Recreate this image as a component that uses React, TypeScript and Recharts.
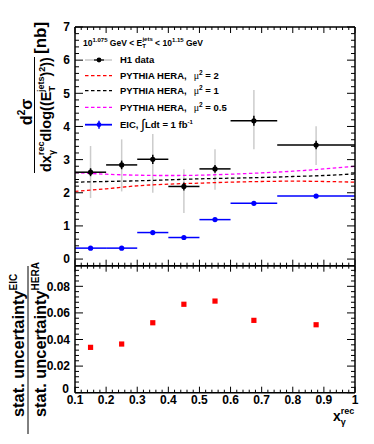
import { ComposedChart, Scatter, Line, XAxis, YAxis, ErrorBar } from "recharts"

// x_gamma bins
const binCenters = [0.15, 0.25, 0.35, 0.45, 0.55, 0.675, 0.875]
const binHalfWidths = [0.05, 0.05, 0.05, 0.05, 0.05, 0.075, 0.125]

// H1 data
const h1Values = [2.62, 2.84, 3.01, 2.19, 2.72, 4.17, 3.44]
const h1Stat = [0.12, 0.13, 0.14, 0.12, 0.12, 0.15, 0.13]
const h1SysLow = [1.84, 2.04, 2.0, 1.39, 2.09, 3.31, 2.84]
const h1SysHigh = [3.41, 3.61, 3.77, 2.71, 3.31, 5.1, 4.01]

// EIC projection
const eicValues = [0.33, 0.33, 0.8, 0.65, 1.19, 1.68, 1.9]
const eicStat = [0.02, 0.02, 0.02, 0.02, 0.02, 0.02, 0.02]

// PYTHIA HERA curves
const curveX = [0.1, 0.2, 0.3, 0.4, 0.5, 0.6, 0.7, 0.8, 0.9, 1.0]
const pythiaMu2 = [2.04, 2.12, 2.21, 2.26, 2.29, 2.32, 2.34, 2.35, 2.34, 2.32]
const pythiaMu1 = [2.32, 2.34, 2.36, 2.39, 2.42, 2.44, 2.46, 2.49, 2.52, 2.57]
const pythiaMu05 = [2.61, 2.56, 2.53, 2.52, 2.53, 2.56, 2.6, 2.65, 2.72, 2.8]

// stat. uncertainty ratio EIC / HERA
const ratioValues = [0.0341, 0.0366, 0.0526, 0.0665, 0.0689, 0.0544, 0.0511]

// ticks
const xMajor = [0.1, 0.2, 0.3, 0.4, 0.5, 0.6, 0.7, 0.8, 0.9, 1.0]
const xLabels = ["0.1", "0.2", "0.3", "0.4", "0.5", "0.6", "0.7", "0.8", "0.9", "1"]
const yTopMajor = [0, 1, 2, 3, 4, 5, 6, 7]
const yTopLabels = ["0", "1", "2", "3", "4", "5", "6", "7"]
const yBotMajor = [0, 0.02, 0.04, 0.06, 0.08]
const yBotLabels = ["0", "0.02", "0.04", "0.06", "0.08"]

const steps = (a: number, b: number, s: number) => {
  const out: number[] = []
  for (let v = a; v <= b + 1e-9; v += s) out.push(Math.round(v * 10000) / 10000)
  return out
}
const xMinor = steps(0.1, 1.0, 0.02)
const yTopMinor = steps(0, 7, 0.2)
const yBotMinor = steps(0, 0.092, 0.004)

const h1Data = binCenters.map((x, i) => ({
  x,
  y: h1Values[i],
  ex: binHalfWidths[i],
  ey: h1Stat[i],
  sys: [h1Values[i] - h1SysLow[i], h1SysHigh[i] - h1Values[i]],
}))
const eicData = binCenters.map((x, i) => ({ x, y: eicValues[i], ex: binHalfWidths[i], ey: eicStat[i] }))
const mu2Data = curveX.map((x, i) => ({ x, y: pythiaMu2[i] }))
const mu1Data = curveX.map((x, i) => ({ x, y: pythiaMu1[i] }))
const mu05Data = curveX.map((x, i) => ({ x, y: pythiaMu05[i] }))
const ratioData = binCenters.map((x, i) => ({ x, y: ratioValues[i] }))

const FONT = "'Liberation Sans', Arial, Helvetica, sans-serif"

type Side = "left" | "right" | "top" | "bottom"

function axisTick(side: Side, majors: number[], labels: string[] | null, majorLen: number, minorLen: number) {
  return (props: any) => {
    const { x, y, payload } = props
    const idx = majors.findIndex((m) => Math.abs(m - payload.value) < 1e-6)
    const len = idx >= 0 ? majorLen : minorLen
    let x2 = x
    let y2 = y
    if (side === "left") x2 = x + len
    if (side === "right") x2 = x - len
    if (side === "bottom") y2 = y - len
    if (side === "top") y2 = y + len
    let label = null
    if (idx >= 0 && labels) {
      // the lower panel's "0" sits just above / left of the x labels
      const corner = labels[idx] === "0" && labels.length === 5
      if (side === "left")
        label = (
          <text x={x - (corner ? 6 : 5)} y={y + 4.3 - (corner ? 4 : 0)} textAnchor="end" fontSize={12}
            fontWeight="bold" fontFamily={FONT} fill="#000">
            {labels[idx]}
          </text>
        )
      if (side === "bottom")
        label = (
          <text x={x} y={y + 11.5} textAnchor="middle" fontSize={12} fontWeight="bold" fontFamily={FONT} fill="#000">
            {labels[idx]}
          </text>
        )
    }
    return (
      <g>
        <line x1={x} y1={y} x2={x2} y2={y2} stroke="#000" strokeWidth={1} />
        {label}
      </g>
    )
  }
}

const frame = { stroke: "#000", strokeWidth: 1.5 }

const dot = (color: string) => (p: any) => <circle cx={p.cx} cy={p.cy} r={2.6} fill={color} />
const square = (p: any) => <rect x={p.cx - 2.6} y={p.cy - 2.6} width={5.2} height={5.2} fill="#ff0000" />
const none = () => <g />

function TopPanel() {
  return (
    <ComposedChart width={374} height={444} margin={{ top: 26, right: 18, bottom: 177.3, left: 74 }}>
      <XAxis xAxisId="b" dataKey="x" type="number" domain={[0.1, 1]} allowDataOverflow ticks={xMinor} interval={0}
        orientation="bottom" height={1} tickSize={0} tickMargin={0} tickLine={false} axisLine={frame}
        tick={axisTick("bottom", xMajor, null, 6, 3)} />
      <XAxis xAxisId="t" dataKey="x" type="number" domain={[0.1, 1]} allowDataOverflow ticks={xMinor} interval={0}
        orientation="top" height={1} tickSize={0} tickMargin={0} tickLine={false} axisLine={frame}
        tick={axisTick("top", xMajor, null, 6, 3)} />
      <YAxis yAxisId="l" dataKey="y" type="number" domain={[-0.2, 7]} allowDataOverflow ticks={yTopMinor} interval={0}
        orientation="left" width={1} tickSize={0} tickMargin={0} tickLine={false} axisLine={frame}
        tick={axisTick("left", yTopMajor, yTopLabels, 8, 4)} />
      <YAxis yAxisId="r" dataKey="y" type="number" domain={[-0.2, 7]} allowDataOverflow ticks={yTopMinor} interval={0}
        orientation="right" width={1} tickSize={0} tickMargin={0} tickLine={false} axisLine={frame}
        tick={axisTick("right", yTopMajor, null, 8, 4)} />

      <Scatter data={h1Data} xAxisId="b" yAxisId="l" shape={none} isAnimationActive={false}>
        <ErrorBar dataKey="sys" direction="y" width={0} stroke="#cccccc" strokeWidth={1.5} isAnimationActive={false} />
      </Scatter>

      <Line data={mu2Data} xAxisId="b" yAxisId="l" dataKey="y" type="monotone" stroke="#ff0000" strokeWidth={1.3}
        strokeDasharray="3.5 2.5" dot={false} isAnimationActive={false} />
      <Line data={mu1Data} xAxisId="b" yAxisId="l" dataKey="y" type="monotone" stroke="#000000" strokeWidth={1.3}
        strokeDasharray="3.5 2.5" dot={false} isAnimationActive={false} />
      <Line data={mu05Data} xAxisId="b" yAxisId="l" dataKey="y" type="monotone" stroke="#ff00ff" strokeWidth={1.3}
        strokeDasharray="3.5 2.5" dot={false} isAnimationActive={false} />

      <Scatter data={eicData} xAxisId="b" yAxisId="l" shape={dot("#0000ff")} isAnimationActive={false}>
        <ErrorBar dataKey="ex" direction="x" width={0} stroke="#0000ff" strokeWidth={1.5} isAnimationActive={false} />
        <ErrorBar dataKey="ey" direction="y" width={0} stroke="#0000ff" strokeWidth={1.5} isAnimationActive={false} />
      </Scatter>

      <Scatter data={h1Data} xAxisId="b" yAxisId="l" shape={dot("#000")} isAnimationActive={false}>
        <ErrorBar dataKey="ex" direction="x" width={0} stroke="#000" strokeWidth={1.5} isAnimationActive={false} />
        <ErrorBar dataKey="ey" direction="y" width={0} stroke="#000" strokeWidth={1.5} isAnimationActive={false} />
      </Scatter>
    </ComposedChart>
  )
}

function BottomPanel() {
  return (
    <ComposedChart width={374} height={444} margin={{ top: 264.7, right: 18, bottom: 50.3, left: 74 }}>
      <XAxis xAxisId="b" dataKey="x" type="number" domain={[0.1, 1]} allowDataOverflow ticks={xMinor} interval={0}
        orientation="bottom" height={1} tickSize={0} tickMargin={0} tickLine={false} axisLine={frame}
        tick={axisTick("bottom", xMajor, xLabels, 6, 3)} />
      <XAxis xAxisId="t" dataKey="x" type="number" domain={[0.1, 1]} allowDataOverflow ticks={xMinor} interval={0}
        orientation="top" height={1} tickSize={0} tickMargin={0} tickLine={false} axisLine={frame}
        tick={axisTick("top", xMajor, null, 6, 3)} />
      <YAxis yAxisId="l" dataKey="y" type="number" domain={[0, 0.0955]} allowDataOverflow ticks={yBotMinor} interval={0}
        orientation="left" width={1} tickSize={0} tickMargin={0} tickLine={false} axisLine={frame}
        tick={axisTick("left", yBotMajor, yBotLabels, 8, 4)} />
      <YAxis yAxisId="r" dataKey="y" type="number" domain={[0, 0.0955]} allowDataOverflow ticks={yBotMinor} interval={0}
        orientation="right" width={1} tickSize={0} tickMargin={0} tickLine={false} axisLine={frame}
        tick={axisTick("right", yBotMajor, null, 8, 4)} />
      <Scatter data={ratioData} xAxisId="b" yAxisId="l" shape={square} isAnimationActive={false} />
    </ComposedChart>
  )
}

function Overlay() {
  const t = { fontFamily: FONT, fontWeight: "bold" as const, fill: "#000" }
  const legendY = [60, 75.7, 90.7, 107.3, 124.7]
  const mu = (v: string) => (
    <>
      <tspan dx={7} fontFamily="'Liberation Serif', serif" fontWeight="normal" fontSize={10}>μ</tspan>
      <tspan dy={-3.5} fontSize={6.5}>2</tspan>
      <tspan dy={3.5}> = {v}</tspan>
    </>
  )
  return (
    <svg width={374} height={444} style={{ position: "absolute", left: 0, top: 0 }}>
      {/* top y title */}
      <g transform="rotate(-90)">
        <text x={-112} y={32} textAnchor="middle" fontSize={16} {...t}>
          d<tspan dy={-7} fontSize={10}>2</tspan>
          <tspan dy={7}>σ</tspan>
        </text>
        <text x={-172} y={51} textAnchor="start" fontSize={14.5} {...t}>
          dx<tspan dy={4} fontSize={9}>γ</tspan>
          <tspan dx={-5} dy={-11} fontSize={9}>rec</tspan>
          <tspan dy={7}>dlog((E</tspan>
          <tspan dy={4} fontSize={9}>T</tspan>
          <tspan dx={-6} dy={-11} fontSize={9}>jets</tspan>
          <tspan dy={7}>)</tspan>
          <tspan dy={-6} fontSize={9}>2</tspan>
          <tspan dy={6}>))</tspan>
        </text>
        <text x={-54} y={46} textAnchor="start" fontSize={17} {...t}>[nb]</text>
        {/* bottom y title */}
        <text x={-417} y={24} textAnchor="start" fontSize={16.4} {...t}>
          stat. uncertainty<tspan dy={-7.5} fontSize={10}>EIC</tspan>
        </text>
        <text x={-417} y={46} textAnchor="start" fontSize={16.4} {...t}>
          stat. uncertainty<tspan dy={-7.5} fontSize={10}>HERA</tspan>
        </text>
      </g>
      <line x1={34.5} y1={57} x2={34.5} y2={173} stroke="#000" strokeWidth={1} />
      <line x1={28} y1={266} x2={28} y2={434} stroke="#000" strokeWidth={1} />

      {/* x title */}
      <text x={333} y={421} fontSize={14} {...t}>
        x<tspan dy={4} fontSize={9}>γ</tspan>
        <tspan dx={-5} dy={-11} fontSize={9}>rec</tspan>
      </text>

      {/* legend */}
      <text x={83} y={45.5} fontSize={8.5} {...t}>
        10<tspan dy={-4} fontSize={6}>1.075</tspan>
        <tspan dy={4}> GeV {"<"} E</tspan>
        <tspan dy={2.5} fontSize={6}>T</tspan>
        <tspan dx={-3.5} dy={-7} fontSize={6}>jets</tspan>
        <tspan dy={4.5}> {"<"} 10</tspan>
        <tspan dy={-4} fontSize={6}>1.15</tspan>
        <tspan dy={4}> GeV</tspan>
      </text>

      <line x1={85} x2={112} y1={legendY[0]} y2={legendY[0]} stroke="#bbbbbb" strokeWidth={1.2} />
      <line x1={94} x2={104} y1={legendY[0]} y2={legendY[0]} stroke="#000" strokeWidth={1.2} />
      <circle cx={99} cy={legendY[0]} r={2.4} fill="#000" />
      <line x1={85} x2={112} y1={legendY[1]} y2={legendY[1]} stroke="#ff0000" strokeWidth={1.3} strokeDasharray="3.5 2.5" />
      <line x1={85} x2={112} y1={legendY[2]} y2={legendY[2]} stroke="#000" strokeWidth={1.3} strokeDasharray="3.5 2.5" />
      <line x1={85} x2={112} y1={legendY[3]} y2={legendY[3]} stroke="#ff00ff" strokeWidth={1.3} strokeDasharray="3.5 2.5" />
      <line x1={85} x2={112} y1={legendY[4]} y2={legendY[4]} stroke="#0000ff" strokeWidth={1.8} />
      <line x1={99} x2={99} y1={legendY[4] - 4} y2={legendY[4] + 4} stroke="#0000ff" strokeWidth={1.5} />
      <circle cx={99} cy={legendY[4]} r={2.4} fill="#0000ff" />

      <text x={120} y={legendY[0] + 3.2} fontSize={9.5} {...t}>H1 data</text>
      <text x={120} y={legendY[1] + 3.2} fontSize={9.5} {...t}>PYTHIA HERA,{mu("2")}</text>
      <text x={120} y={legendY[2] + 3.2} fontSize={9.5} {...t}>PYTHIA HERA,{mu("1")}</text>
      <text x={120} y={legendY[3] + 3.2} fontSize={9.5} {...t}>PYTHIA HERA,{mu("0.5")}</text>
      <text x={120} y={legendY[4] + 3.2} fontSize={9.5} {...t}>
        EIC, <tspan fontSize={14} fontWeight="normal" dy={1.5}>∫</tspan>
        <tspan dy={-1.5}>Ldt = 1 fb</tspan>
        <tspan dy={-3.5} fontSize={6}>-1</tspan>
      </text>
    </svg>
  )
}

export default function App() {
  return (
    <div style={{ position: "absolute", left: 0, top: 0, width: 374, height: 444, background: "#fff" }}>
      <div style={{ position: "absolute", left: 0, top: 0 }}>
        <BottomPanel />
      </div>
      <div style={{ position: "absolute", left: 0, top: 0 }}>
        <TopPanel />
      </div>
      <Overlay />
    </div>
  )
}
